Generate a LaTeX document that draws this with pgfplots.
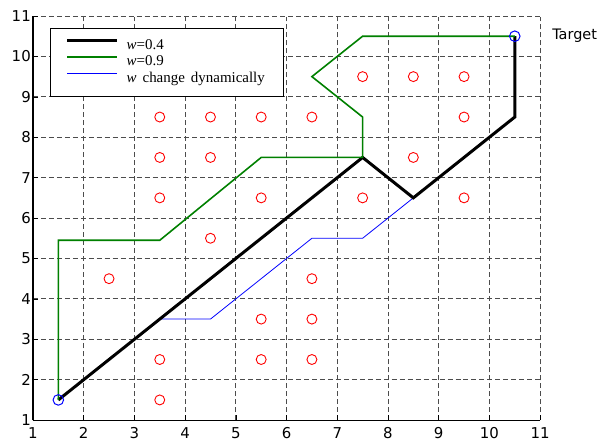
\documentclass[border=0pt]{standalone}
\usepackage{pgfplots}
\pgfplotsset{compat=1.18}
\usepackage{fontspec}
\setmainfont{Liberation Serif}
\setsansfont{DejaVu Sans}
\definecolor{mgreen}{rgb}{0,0.5,0}
\begin{document}
\begin{tikzpicture}
\begin{axis}[
  scale only axis,
  width=507bp, height=404bp,
  xmin=1, xmax=11, ymin=1, ymax=11,
  xtick={1,...,11}, ytick={1,...,11},
  axis x line*=bottom, axis y line*=left,
  axis line style={-, black, line width=1.1pt},
  tick align=inside,
  major tick length=5pt,
  tick style={black, line width=0.6pt},
  grid=major,
  major grid style={black!70, line width=0.8pt, dash pattern=on 5pt off 3pt},
  tick label style={font=\sffamily\fontsize{15}{17}\selectfont, inner sep=1pt},
  /pgf/number format/assume math mode=true,
  yticklabel style={xshift=-1bp},
  xticklabel style={yshift=-6.3pt},
  legend style={at={(0.034,0.97)}, anchor=north west, draw=black, line width=0.9pt,
    font=\fontsize{15}{16.5}\selectfont, inner xsep=15bp, inner ysep=9.2bp,
    column sep=4bp,
    nodes={inner ysep=0.3pt, inner xsep=4pt, text height=11.2bp, text depth=4.7bp}, cells={anchor=west}},
  legend cell align=left,
  legend image code/.code={\draw[#1] (0bp,5.5bp) -- (50bp,5.5bp);},
  clip=false,
]
\addlegendimage{black, line width=3pt}
\addlegendentry{\textit{w}=0.4}
\addlegendimage{mgreen, line width=1.6pt}
\addlegendentry{\textit{w}=0.9}
\addlegendimage{blue, line width=0.8pt}
\addlegendentry{\textit{w}\hspace{6bp}change\hspace{6bp}dynamically}
% bounding frame of the figure
\path (rel axis cs:-0.065,-0.057) rectangle (rel axis cs:1.122,1.0396);
% blue path
\addplot[blue, line width=0.8pt, forget plot] coordinates {
(1.5,1.5) (3.5,3.5) (4.5,3.5) (6.5,5.5) (7.5,5.5) (8.5,6.5) (10.5,8.5) (10.5,10.5)};
% black path
\addplot[black, line width=3pt, forget plot] coordinates {
(1.5,1.5) (7.5,7.5) (8.5,6.5) (10.5,8.5) (10.5,10.5)};
% green path
\addplot[mgreen, line width=1.6pt, forget plot] coordinates {
(1.5,1.5) (1.5,5.45) (3.5,5.45) (5.5,7.5) (7.5,7.5) (7.5,8.5) (6.5,9.5) (7.5,10.5) (10.5,10.5)};
% obstacles
\addplot[only marks, mark=o, mark size=5pt, red, mark options={line width=0.9pt}, forget plot] coordinates {
(2.5,4.5) (3.5,1.5) (3.5,2.5) (3.5,6.5) (3.5,7.5) (3.5,8.5)
(4.5,5.5) (4.5,7.5) (4.5,8.5)
(5.5,2.5) (5.5,3.5) (5.5,6.5) (5.5,8.5)
(6.5,2.5) (6.5,3.5) (6.5,4.5) (6.5,8.5)
(7.5,6.5) (7.5,9.5) (8.5,7.5) (8.5,9.5)
(9.5,6.5) (9.5,8.5) (9.5,9.5)};
% start and target
\addplot[only marks, mark=o, mark size=5.3pt, blue, mark options={line width=1pt}, forget plot] coordinates {
(1.5,1.5) (10.5,10.5)};
\node[anchor=west, font=\sffamily\fontsize{14.5}{16}\selectfont] at (axis cs:11.17,10.5) {Target};
\end{axis}
\end{tikzpicture}
\end{document}
